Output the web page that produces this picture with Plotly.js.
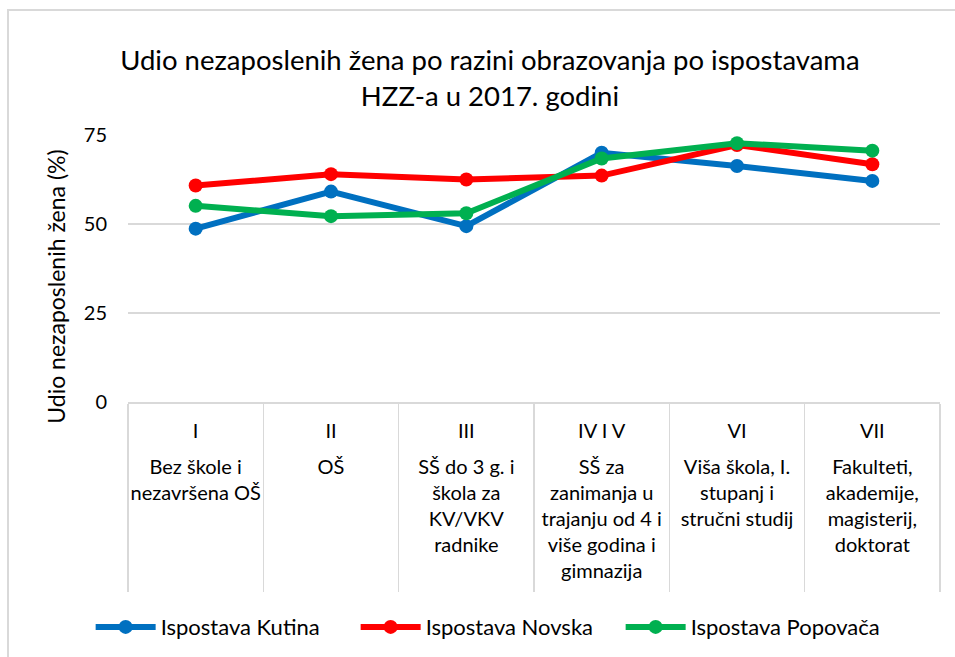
<!DOCTYPE html>
<html>
<head>
<meta charset="utf-8">
<script src="https://cdn.plot.ly/plotly-3.0.1.min.js"></script>
<style>
html,body{margin:0;padding:0;background:#fff;overflow:hidden;}
#chart{width:955px;height:657px;position:relative;}
#frame{position:absolute;left:7px;top:9px;width:1000px;height:700px;border:2px solid #d9d9d9;pointer-events:none;}
</style>
</head>
<body>
<div id="chart"></div>
<div id="frame"></div>
<script>
const categories = ["I", "II", "III", "IV I V", "VI", "VII"];
const categoryDescriptions = [
  "Bez škole i<br>nezavršena OŠ",
  "OŠ",
  "SŠ do 3 g. i<br>škola za<br>KV/VKV<br>radnike",
  "SŠ za<br>zanimanja u<br>trajanju od 4 i<br>više godina i<br>gimnazija",
  "Viša škola, I.<br>stupanj i<br>stručni studij",
  "Fakulteti,<br>akademije,<br>magisterij,<br>doktorat"
];
const kutina = [48.7, 59.1, 49.4, 70.0, 66.3, 62.1];
const novska = [60.8, 64.0, 62.5, 63.6, 72.2, 66.8];
const popovaca = [55.1, 52.2, 53.0, 68.4, 72.7, 70.6];
const seriesNames = ["Ispostava Kutina", "Ispostava Novska", "Ispostava Popovača"];
const yTicks = [0, 25, 50, 75];

const colors = ["#0070C0", "#FF0000", "#00B050"];
const font = "Lato, 'Open Sans', sans-serif";

const data = [kutina, novska, popovaca].map((vals, i) => ({
  type: "scatter",
  mode: "lines+markers",
  x: categories,
  y: vals,
  name: seriesNames[i],
  line: {color: colors[i], width: 6},
  marker: {color: colors[i], size: 14},
  cliponaxis: false
}));
// invisible helper trace so the second category axis (descriptions) is drawn
data.push({
  type: "scatter", mode: "markers",
  x: categories, y: kutina,
  xaxis: "x2", yaxis: "y",
  marker: {opacity: 0}, showlegend: false, hoverinfo: "skip"
});

const layout = {
  width: 955, height: 657,
  paper_bgcolor: "#fff", plot_bgcolor: "#fff",
  margin: {l: 128, r: 15, t: 135, b: 255, autoexpand: false},
  font: {family: font, color: "#000"},
  title: {
    text: "Udio nezaposlenih žena po razini obrazovanja po ispostavama<br>HZZ-a u 2017. godini",
    font: {family: font, size: 27.5, color: "#000"},
    x: 0.513, xanchor: "center", y: 0.893, yanchor: "middle"
  },
  xaxis: {
    type: "category",
    tickmode: "array",
    tickvals: categories,
    ticktext: categories,
    tickangle: 0,
    tickson: "boundaries",
    ticks: "outside",
    ticklen: 188,
    tickwidth: 1.5,
    tickcolor: "#d9d9d9",
    showline: true, linecolor: "#d9d9d9", linewidth: 1.5,
    showgrid: false,
    tickfont: {family: font, size: 20, color: "#000"},
    ticklabelstandoff: 10,
    range: [-0.5, 5.5],
    fixedrange: true
  },
  xaxis2: {
    type: "category",
    overlaying: "x",
    side: "bottom",
    tickmode: "array",
    tickvals: categories,
    ticktext: categoryDescriptions,
    tickangle: 0,
    ticks: "",
    showline: false, showgrid: false, zeroline: false,
    tickfont: {family: font, size: 20, color: "#000"},
    ticklabelstandoff: 51,
    range: [-0.5, 5.5],
    fixedrange: true
  },
  yaxis: {
    range: [0, 75],
    tickvals: yTicks,
    ticktext: yTicks.map(String),
    showgrid: true, gridcolor: "#d9d9d9", gridwidth: 1.5,
    zeroline: false,
    showline: false,
    ticks: "",
    tickfont: {family: font, size: 20, color: "#000"},
    ticklabelstandoff: 20,
    fixedrange: true
  },
  annotations: [{
    text: "Udio nezaposlenih žena (%)",
    textangle: -90,
    xref: "paper", yref: "paper",
    x: -0.088, y: 0.43,
    xanchor: "center", yanchor: "middle",
    showarrow: false,
    font: {family: font, size: 23, color: "#000"}
  }],
  showlegend: true,
  legend: {
    orientation: "h",
    x: -0.046, xanchor: "left",
    y: -0.843, yanchor: "middle",
    font: {family: font, size: 22, color: "#000"},
    itemwidth: 60,
    entrywidth: 190,
    entrywidthmode: "pixels",
    tracegroupgap: 0
  }
};

Plotly.newPlot("chart", data, layout, {displayModeBar: false, staticPlot: true});
</script>
</body>
</html>
